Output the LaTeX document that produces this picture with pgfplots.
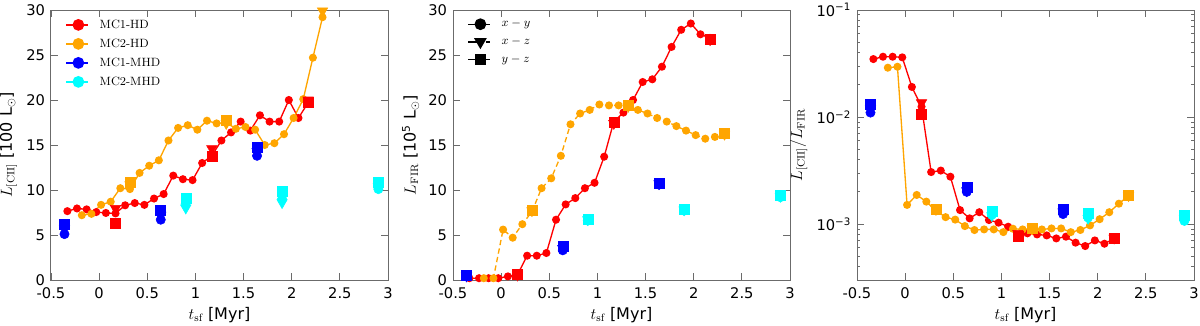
\documentclass[border=0pt]{standalone}
\usepackage{fontspec}
\setsansfont{DejaVu Sans}
\usepackage{pgfplots}
\pgfplotsset{compat=1.18}

\definecolor{cOr}{rgb}{1,0.647,0}
\definecolor{cCy}{rgb}{0,1,1}
\definecolor{frm}{gray}{0.42}

\pgfplotsset{
  panel/.style={
    scale only axis, width=252.75pt, height=202.5pt, anchor=south west,
    xmin=-0.5, xmax=3, xtick={-0.5,0,0.5,1,1.5,2,2.5,3},
    tick align=inside, major tick length=5pt, minor tick length=2.5pt,
    axis line style={frm, line width=0.75pt},
    every tick/.style={frm, line width=0.6pt},
    tick label style={font=\sffamily\fontsize{11}{13}\selectfont, black},
    xticklabel style={yshift=-2.5pt},
    yticklabel style={xshift=-1pt},
    label style={font=\sffamily\fontsize{12}{14}\selectfont},
    xlabel style={yshift=1pt},
    /pgf/number format/assume math mode=true,
    xlabel={$t_{\mathrm{sf}}$ [Myr]},
    legend style={draw=none, fill=none, at={(0.035,0.985)}, anchor=north west,
      font=\rmfamily\fontsize{9}{10}\selectfont, row sep=2.4pt, inner sep=2pt,
      /tikz/every odd column/.append style={column sep=6pt}},
    legend cell align=left,
    legend image code/.code={
      \draw[##1, solid, mark=none] (0pt,0pt) -- (9pt,0pt);
      \draw[##1, solid, mark=none] (13pt,0pt) -- (16.5pt,0pt);
      \draw[##1, only marks] plot coordinates {(9pt,0pt)};
    },
  },
  hd/.style={line width=1pt, mark=*, mark size=2.5pt, mark options={solid}},
  ci/.style={only marks, mark=*, mark size=3.5pt, forget plot},
  tri/.style={only marks, mark=triangle*, mark size=4.5pt, mark options={rotate=180}, forget plot},
  sq/.style={only marks, mark=square*, mark size=3.75pt, forget plot},
  leg/.style={line width=1pt, mark=*, mark size=3.9pt},
}

\begin{document}
\begin{tikzpicture}
\useasboundingbox (0,0) rectangle (900pt,243.75pt);

% ---- panel 1: L[CII]
\begin{axis}[panel, at={(38.25pt,33.75pt)},
  ymin=0, ymax=30, ytick={0,5,10,15,20,25,30},
  ylabel={$L_{\mathrm{[CII]}}$ [100 L$_\odot$]}]
\addlegendimage{leg, red}\addlegendentry{MC1-HD}
\addlegendimage{leg, cOr}\addlegendentry{MC2-HD}
\addlegendimage{leg, blue}\addlegendentry{MC1-MHD}
\addlegendimage{leg, cCy}\addlegendentry{MC2-MHD}
\addplot[hd, red, forget plot] coordinates {
(-0.33,7.65)(-0.23,7.95)(-0.13,7.85)(-0.03,7.55)(0.07,7.45)(0.17,7.4)(0.27,8.3)(0.37,8.55)
(0.47,8.35)(0.57,9.05)(0.67,9.55)(0.77,11.6)(0.87,11.2)(0.97,11.1)(1.07,13.0)(1.17,13.8)
(1.27,15.5)(1.37,16.4)(1.47,17.6)(1.57,16.6)(1.67,18.3)(1.77,17.6)(1.87,17.6)(1.97,20.0)
(2.07,18.0)(2.17,19.7)};
\addplot[hd, cOr, forget plot] coordinates {
(-0.18,7.2)(-0.08,7.35)(0.02,8.35)(0.12,8.7)(0.22,10.2)(0.32,10.1)(0.42,11.9)(0.52,12.7)
(0.62,13.3)(0.72,15.5)(0.82,16.9)(0.92,17.2)(1.02,16.7)(1.12,17.7)(1.22,17.4)(1.32,17.5)
(1.42,16.8)(1.52,17.0)(1.62,16.7)(1.72,15.0)(1.82,15.2)(1.92,16.2)(2.02,18.0)(2.12,20.1)
(2.22,24.7)(2.32,29.2)};
\addplot[tri, red] coordinates {(0.17,7.95)(1.17,14.6)(2.17,20.0)};
\addplot[sq, red] coordinates {(0.17,6.3)(1.17,13.7)(2.17,19.8)};
\addplot[tri, cOr] coordinates {(0.32,10.6)(1.32,17.4)(2.32,29.9)};
\addplot[sq, cOr] coordinates {(0.32,10.9)(1.32,17.8)(2.32,30.6)};
\addplot[ci, blue] coordinates {(-0.36,5.1)(0.64,6.7)(1.64,13.8)};
\addplot[tri, blue] coordinates {(-0.36,5.7)(0.64,7.2)(1.64,14.3)};
\addplot[sq, blue] coordinates {(-0.36,6.2)(0.64,7.7)(1.64,14.8)};
\addplot[ci, cCy] coordinates {(0.9,8.5)(1.9,9.0)(2.9,10.1)};
\addplot[tri, cCy] coordinates {(0.9,8.0)(1.9,8.6)(2.9,10.4)};
\addplot[sq, cCy] coordinates {(0.9,9.1)(1.9,9.9)(2.9,10.9)};
\end{axis}

% ---- panel 2: L_FIR
\begin{axis}[panel, at={(339.75pt,33.75pt)},
  ymin=0, ymax=30, ytick={0,5,10,15,20,25,30},
  ylabel={$L_{\mathrm{FIR}}$ [10\textsuperscript{5} L$_\odot$]}]
\addlegendimage{leg, black}\addlegendentry{$x-y$}
\addlegendimage{leg, black, mark=triangle*, mark size=4.5pt, mark options={rotate=180}}\addlegendentry{$x-z$}
\addlegendimage{leg, black, mark=square*, mark size=3.6pt}\addlegendentry{$y-z$}
\addplot[hd, red, forget plot] coordinates {
(-0.33,0.2)(-0.23,0.2)(-0.13,0.2)(-0.03,0.2)(0.07,0.4)(0.17,0.6)(0.27,2.7)(0.37,2.7)
(0.47,3.0)(0.57,6.7)(0.67,8.4)(0.77,9.1)(0.87,10.2)(0.97,10.8)(1.07,13.7)(1.17,17.6)
(1.27,18.6)(1.37,20.0)(1.47,22.0)(1.57,22.3)(1.67,23.7)(1.77,25.9)(1.87,27.8)(1.97,28.5)
(2.07,27.3)(2.17,26.9)};
\addplot[hd, cOr, dash pattern=on 4pt off 2.5pt, forget plot] coordinates {
(-0.18,0.2)(-0.08,0.2)(0.02,5.6)(0.12,4.7)(0.22,6.2)(0.32,7.6)(0.42,10.2)(0.52,11.3)
(0.62,13.8)(0.72,17.3)(0.82,18.5)(0.92,18.9)(1.02,19.5)(1.12,19.4)(1.22,19.4)(1.32,19.3)
(1.42,18.9)(1.52,18.5)(1.62,18.0)(1.72,17.6)(1.82,17.1)(1.92,16.6)(2.02,16.1)(2.12,15.7)
(2.22,15.9)(2.32,16.2)};
\addplot[tri, red] coordinates {(0.17,0.55)(1.17,17.4)(2.17,26.7)};
\addplot[sq, red] coordinates {(0.17,0.6)(1.17,17.5)(2.17,26.8)};
\addplot[tri, cOr] coordinates {(0.32,7.7)(1.32,19.3)(2.32,16.2)};
\addplot[sq, cOr] coordinates {(0.32,7.8)(1.32,19.4)(2.32,16.3)};
\addplot[ci, blue] coordinates {(-0.36,0.4)(0.64,3.3)(1.64,10.6)};
\addplot[tri, blue] coordinates {(-0.36,0.45)(0.64,3.5)(1.64,10.7)};
\addplot[sq, blue] coordinates {(-0.36,0.5)(0.64,3.7)(1.64,10.8)};
\addplot[ci, cCy] coordinates {(0.9,6.6)(1.9,7.7)(2.9,9.2)};
\addplot[tri, cCy] coordinates {(0.9,6.7)(1.9,7.8)(2.9,9.3)};
\addplot[sq, cCy] coordinates {(0.9,6.8)(1.9,7.9)(2.9,9.4)};
\end{axis}

% ---- panel 3: ratio
\begin{axis}[panel, at={(642.75pt,33.75pt)},
  ymode=log, ymin=3e-4, ymax=0.1,
  ytick={1e-3,1e-2,1e-1},
  yticklabels={10\textsuperscript{−3},10\textsuperscript{−2},10\textsuperscript{−1}},
  minor ytick={4e-4,5e-4,6e-4,7e-4,8e-4,9e-4,2e-3,3e-3,4e-3,5e-3,6e-3,7e-3,8e-3,9e-3,
    2e-2,3e-2,4e-2,5e-2,6e-2,7e-2,8e-2,9e-2},
  ylabel={$L_{\mathrm{[CII]}}/L_{\mathrm{FIR}}$}]
\addplot[hd, red, forget plot] coordinates {
(-0.33,0.0348)(-0.23,0.0366)(-0.13,0.0366)(-0.03,0.0361)(0.07,0.0191)(0.17,0.0125)
(0.27,0.00306)(0.37,0.00316)(0.47,0.00277)(0.57,0.00135)(0.67,0.00113)(0.77,0.00129)
(0.87,0.00109)(0.97,0.00103)(1.07,0.000944)(1.17,0.00078)(1.27,0.000819)(1.37,0.0008)
(1.47,0.000783)(1.57,0.000734)(1.67,0.000762)(1.77,0.00067)(1.87,0.000623)(1.97,0.000703)
(2.07,0.000655)(2.17,0.000732)};
\addplot[hd, cOr, forget plot] coordinates {
(-0.18,0.0289)(-0.08,0.0295)(0.02,0.00151)(0.12,0.00187)(0.22,0.00162)(0.32,0.00133)
(0.42,0.00116)(0.52,0.0011)(0.62,0.000957)(0.72,0.000879)(0.82,0.000891)(0.92,0.000891)
(1.02,0.000841)(1.12,0.000904)(1.22,0.000891)(1.32,0.000905)(1.42,0.00089)(1.52,0.00091)
(1.62,0.00091)(1.72,0.00084)(1.82,0.00088)(1.92,0.000972)(2.02,0.00111)(2.12,0.00129)
(2.22,0.00155)(2.32,0.00184)};
\addplot[tri, red] coordinates {(0.17,0.0136)(1.17,0.00082)(2.17,0.00074)};
\addplot[sq, red] coordinates {(0.17,0.0106)(1.17,0.00077)(2.17,0.00073)};
\addplot[tri, cOr] coordinates {(0.32,0.00137)(1.32,0.0009)(2.32,0.00184)};
\addplot[sq, cOr] coordinates {(0.32,0.00138)(1.32,0.00092)(2.32,0.00187)};
\addplot[ci, blue] coordinates {(-0.36,0.0110)(0.64,0.00200)(1.64,0.00124)};
\addplot[tri, blue] coordinates {(-0.36,0.0120)(0.64,0.00205)(1.64,0.0013)};
\addplot[sq, blue] coordinates {(-0.36,0.0132)(0.64,0.00222)(1.64,0.00137)};
\addplot[ci, cCy] coordinates {(0.9,0.00122)(1.9,0.00115)(2.9,0.00107)};
\addplot[tri, cCy] coordinates {(0.9,0.0012)(1.9,0.00113)(2.9,0.00112)};
\addplot[sq, cCy] coordinates {(0.9,0.00133)(1.9,0.00127)(2.9,0.00121)};
\end{axis}
\end{tikzpicture}
\end{document}
